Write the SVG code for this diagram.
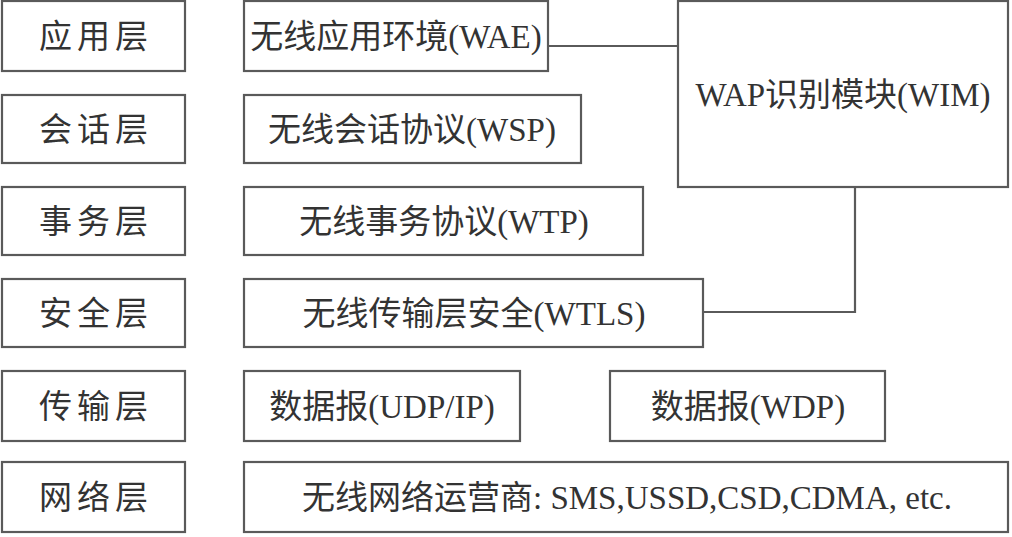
<svg xmlns="http://www.w3.org/2000/svg" width="1012" height="537" viewBox="0 0 1012 537">
<style>
.box{fill:#fff;stroke:#5a5a5a;stroke-width:2.2}
.lbl{font-family:"Liberation Serif","Noto Sans CJK SC",serif;font-size:33px;fill:#333;text-anchor:middle;dominant-baseline:central}
.lay{letter-spacing:5px}
.con{fill:none;stroke:#5a5a5a;stroke-width:2.2}
</style>
<rect width="1012" height="537" fill="#fff"/>
<g id="layer-app"><rect class="box" x="2" y="1" width="183" height="70"/><text class="lbl lay" x="96" y="37">应用层</text></g>
<g id="layer-session"><rect class="box" x="2" y="95" width="183" height="68"/><text class="lbl lay" x="96" y="130">会话层</text></g>
<g id="layer-trans"><rect class="box" x="2" y="187" width="183" height="68"/><text class="lbl lay" x="96" y="222">事务层</text></g>
<g id="layer-sec"><rect class="box" x="2" y="279" width="183" height="68"/><text class="lbl lay" x="96" y="314">安全层</text></g>
<g id="layer-transport"><rect class="box" x="2" y="371" width="183" height="70"/><text class="lbl lay" x="96" y="407">传输层</text></g>
<g id="layer-net"><rect class="box" x="2" y="462" width="183" height="70"/><text class="lbl lay" x="96" y="498">网络层</text></g>
<g id="wae"><rect class="box" x="244" y="1" width="304" height="70"/><text class="lbl" x="396" y="37">无线应用环境(WAE)</text></g>
<g id="wsp"><rect class="box" x="244" y="95" width="337" height="68"/><text class="lbl" x="412" y="130">无线会话协议(WSP)</text></g>
<g id="wtp"><rect class="box" x="244" y="187" width="399" height="68"/><text class="lbl" x="444" y="222">无线事务协议(WTP)</text></g>
<g id="wtls"><rect class="box" x="244" y="279" width="459" height="68"/><text class="lbl" x="474" y="314">无线传输层安全(WTLS)</text></g>
<g id="udp"><rect class="box" x="244" y="371" width="276" height="70"/><text class="lbl" x="382" y="407">数据报(UDP/IP)</text></g>
<g id="wdp"><rect class="box" x="610" y="371" width="275" height="70"/><text class="lbl" x="748" y="407">数据报(WDP)</text></g>
<g id="bearer"><rect class="box" x="244" y="462" width="764" height="70"/><text class="lbl" x="627" y="498">无线网络运营商: SMS,USSD,CSD,CDMA, etc.</text></g>
<g id="wim"><rect class="box" x="678" y="1" width="330" height="186"/><text class="lbl" x="843" y="95">WAP识别模块(WIM)</text></g>
<g id="connectors">
<path class="con" d="M548 46H678"/>
<path class="con" d="M855 187V312H703"/>
</g>
</svg>
